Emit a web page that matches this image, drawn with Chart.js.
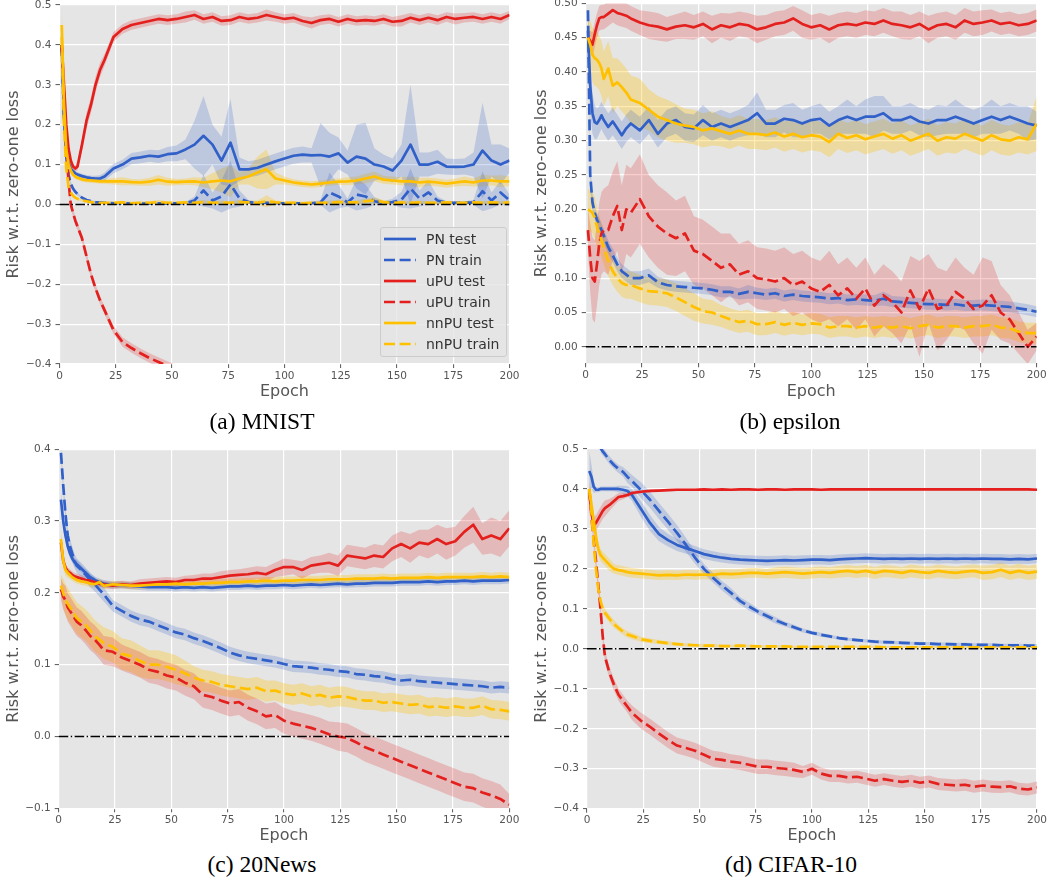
<!DOCTYPE html>
<html lang="en">
<head>
  <meta charset="UTF-8">
  <title>Risk w.r.t. zero-one loss</title>
  <script src="https://cdn.jsdelivr.net/npm/chart.js"></script>
  <style>
    body { margin: 0; background: #fff; }
    #page { position: relative; width: 1050px; height: 882px; overflow: hidden; }
    #page canvas { position: absolute; }
    .caption {
      position: absolute; width: 300px; height: 28px; line-height: 28px;
      text-align: center; font-family: "Liberation Serif", serif; font-size: 23.5px; color: #000;
    }
    #legend {
      position: absolute; left: 380px; top: 227px; width: 125px; height: 128px;
      background: rgba(229, 229, 229, 0.8); border: 1px solid #cccccc; border-radius: 3px;
      font-family: "DejaVu Sans", sans-serif; font-size: 14px; color: #333;
    }
    #legend .row { position: absolute; left: 0; height: 20px; width: 125px; }
    #legend svg { position: absolute; left: 3px; top: 0; }
    #legend span { position: absolute; left: 45px; top: 0; line-height: 20px; white-space: nowrap; }
  </style>
</head>
<body>
<div id="page">
  <canvas id="chartA" width="525" height="410" style="left:0;top:0"></canvas>
  <canvas id="chartB" width="525" height="410" style="left:525px;top:0"></canvas>
  <canvas id="chartC" width="525" height="410" style="left:0;top:440px"></canvas>
  <canvas id="chartD" width="525" height="410" style="left:525px;top:440px"></canvas>

  <div class="caption" style="left:112px;top:407px">(a) MNIST</div>
  <div class="caption" style="left:640px;top:407px">(b) epsilon</div>
  <div class="caption" style="left:112px;top:850px">(c) 20News</div>
  <div class="caption" style="left:641px;top:850px">(d) CIFAR-10</div>

  <div id="legend"></div>
</div>

<script>
const EPOCHS = [1,2,3,4,5,6,7,8,10,12,14,16,18,20,
  24,28,32,36,40,44,48,52,56,
  60,64,68,72,76,80,84,88,92,
  96,100,104,108,112,116,120,124,128,
  132,136,140,144,148,152,156,160,164,
  168,172,176,180,184,188,192,196,200];
const X_TICKS = [0,25,50,75,100,125,150,175,200];

// ---- (a) MNIST ----
const A_PN_TEST = [0.40,0.22,0.14,0.105,0.09,0.083,0.078,0.075,0.071,0.068,0.066,0.065,0.065,0.07,
  0.09,0.10,0.115,0.118,0.122,0.12,0.126,0.128,0.138,
  0.15,0.172,0.15,0.11,0.155,0.088,0.088,0.092,0.10,
  0.108,0.115,0.122,0.125,0.123,0.124,0.12,0.128,0.105,
  0.12,0.115,0.10,0.095,0.085,0.11,0.15,0.10,0.10,
  0.107,0.095,0.094,0.095,0.10,0.135,0.11,0.10,0.11];
const A_PN_TEST_SD = [0.03,0.02,0.015,0.01,0.008,0.007,0.006,0.006,0.006,0.006,0.006,0.007,0.008,0.01,
  0.012,0.012,0.014,0.015,0.015,0.016,0.018,0.02,0.025,
  0.06,0.10,0.05,0.06,0.11,0.03,0.02,0.02,0.02,
  0.02,0.02,0.02,0.02,0.018,0.08,0.06,0.04,0.03,
  0.08,0.09,0.04,0.03,0.03,0.04,0.15,0.03,0.03,
  0.03,0.02,0.02,0.02,0.03,0.12,0.04,0.05,0.03];
const A_PN_TRAIN = [0.40,0.22,0.12,0.075,0.052,0.04,0.032,0.026,0.017,0.011,0.008,0.006,0.005,0.004,
  0.003,0.003,0.002,0.002,0.002,0.003,0.002,0.003,0.003,
  0.01,0.035,0.01,0.02,0.05,0.015,0.006,0.004,0.004,
  0.003,0.003,0.003,0.003,0.003,0.005,0.03,0.02,0.005,
  0.025,0.02,0.008,0.004,0.006,0.012,0.04,0.015,0.03,
  0.01,0.004,0.004,0.004,0.005,0.033,0.01,0.03,0.01];
const A_PN_TRAIN_SD = [0.03,0.02,0.012,0.008,0.006,0.005,0.004,0.004,0.003,0.003,0.003,0.002,0.002,0.002,
  0.002,0.002,0.002,0.002,0.002,0.002,0.002,0.003,0.003,
  0.01,0.04,0.02,0.04,0.06,0.02,0.005,0.003,0.003,
  0.003,0.003,0.003,0.003,0.003,0.006,0.05,0.03,0.01,
  0.04,0.03,0.01,0.004,0.008,0.02,0.05,0.02,0.03,
  0.01,0.004,0.004,0.004,0.006,0.05,0.02,0.03,0.015];
const A_UPU_TEST = [0.40,0.30,0.20,0.14,0.11,0.095,0.09,0.095,0.15,0.21,0.25,0.30,0.337,0.362,
  0.42,0.44,0.45,0.455,0.46,0.465,0.462,0.465,0.47,
  0.475,0.465,0.47,0.46,0.462,0.47,0.465,0.468,0.475,
  0.47,0.465,0.468,0.46,0.455,0.462,0.465,0.458,0.465,
  0.46,0.462,0.46,0.465,0.458,0.46,0.468,0.462,0.468,
  0.462,0.47,0.465,0.468,0.47,0.465,0.47,0.465,0.475];
const A_UPU_TEST_SD = [0.02,0.02,0.02,0.015,0.01,0.008,0.008,0.01,0.015,0.02,0.02,0.02,0.018,0.015,
  0.012,0.012,0.012,0.012,0.012,0.012,0.012,0.012,0.014,
  0.012,0.012,0.012,0.012,0.012,0.012,0.012,0.012,0.014,
  0.012,0.012,0.012,0.012,0.014,0.012,0.012,0.012,0.012,
  0.012,0.012,0.012,0.012,0.012,0.014,0.012,0.012,0.012,
  0.012,0.012,0.014,0.012,0.012,0.012,0.012,0.012,0.01];
const A_UPU_TRAIN = [0.40,0.27,0.15,0.06,0.0,-0.02,-0.04,-0.055,-0.085,-0.13,-0.175,-0.21,-0.24,-0.265,
  -0.315,-0.345,-0.36,-0.373,-0.385,-0.395,-0.405,-0.415,null,
  null,null,null,null,null,null,null,null,null,
  null,null,null,null,null,null,null,null,null,
  null,null,null,null,null,null,null,null,null,
  null,null,null,null,null,null,null,null,null];
const A_UPU_TRAIN_SD = [0.02,0.015,0.012,0.01,0.01,0.01,0.01,0.01,0.01,0.01,0.01,0.01,0.01,0.01,
  0.01,0.012,0.012,0.012,0.012,0.012,0.012,0.012,null,
  null,null,null,null,null,null,null,null,null,
  null,null,null,null,null,null,null,null,null,
  null,null,null,null,null,null,null,null,null,
  null,null,null,null,null,null,null,null,null];
const A_NNPU_TEST = [0.45,0.25,0.14,0.10,0.085,0.075,0.07,0.067,0.063,0.061,0.06,0.059,0.058,0.058,
  0.058,0.058,0.056,0.055,0.057,0.062,0.057,0.056,0.057,
  0.058,0.055,0.058,0.06,0.058,0.065,0.07,0.08,0.088,
  0.065,0.06,0.055,0.052,0.05,0.052,0.055,0.057,0.058,
  0.06,0.065,0.07,0.062,0.06,0.058,0.058,0.055,0.057,
  0.055,0.052,0.055,0.058,0.055,0.06,0.06,0.058,0.058];
const A_NNPU_TEST_SD = [0.05,0.03,0.015,0.01,0.008,0.006,0.006,0.006,0.006,0.006,0.006,0.006,0.006,0.006,
  0.008,0.01,0.008,0.008,0.01,0.012,0.01,0.008,0.008,
  0.01,0.012,0.02,0.03,0.04,0.015,0.02,0.04,0.05,
  0.015,0.01,0.008,0.008,0.008,0.008,0.008,0.008,0.01,
  0.01,0.012,0.012,0.01,0.01,0.01,0.012,0.012,0.01,
  0.01,0.01,0.01,0.012,0.01,0.015,0.012,0.015,0.012];
const A_NNPU_TRAIN = [0.42,0.20,0.09,0.045,0.03,0.022,0.017,0.014,0.01,0.008,0.006,0.005,0.004,0.004,
  0.004,0.005,0.003,0.004,0.004,0.006,0.004,0.004,0.005,
  0.004,0.006,0.004,0.005,0.004,0.006,0.005,0.004,0.008,
  0.005,0.004,0.004,0.003,0.004,0.004,0.004,0.006,0.005,
  0.005,0.008,0.01,0.006,0.004,0.005,0.004,0.005,0.004,
  0.004,0.005,0.004,0.004,0.005,0.004,0.005,0.004,0.005];
const A_NNPU_TRAIN_SD = [0.04,0.02,0.01,0.006,0.004,0.003,0.003,0.003,0.003,0.003,0.003,0.003,0.003,0.003,
  0.004,0.004,0.004,0.004,0.004,0.005,0.004,0.004,0.004,
  0.004,0.005,0.004,0.005,0.004,0.005,0.005,0.006,0.015,
  0.005,0.004,0.004,0.004,0.004,0.004,0.005,0.006,0.005,
  0.005,0.006,0.008,0.005,0.004,0.004,0.004,0.004,0.004,
  0.004,0.004,0.004,0.004,0.004,0.004,0.004,0.004,0.004];

// ---- (b) epsilon ----
const B_PN_TEST = [0.46,0.38,0.34,0.327,0.325,0.33,0.337,0.33,0.32,0.328,0.318,0.308,0.318,0.325,
  0.315,0.33,0.31,0.325,0.33,0.32,0.318,0.33,0.32,
  0.325,0.32,0.325,0.33,0.34,0.325,0.325,0.332,0.33,
  0.325,0.33,0.332,0.322,0.33,0.335,0.33,0.335,0.335,
  0.34,0.33,0.33,0.335,0.328,0.325,0.33,0.33,0.335,
  0.33,0.325,0.33,0.335,0.33,0.335,0.33,0.325,0.322];
const B_PN_TEST_SD = [0.03,0.04,0.03,0.025,0.022,0.02,0.02,0.02,0.02,0.02,0.02,0.02,0.02,0.02,
  0.02,0.02,0.02,0.02,0.02,0.02,0.02,0.022,0.02,
  0.02,0.02,0.02,0.022,0.03,0.02,0.02,0.02,0.025,
  0.02,0.02,0.022,0.02,0.02,0.025,0.02,0.025,0.03,
  0.025,0.02,0.02,0.02,0.02,0.02,0.022,0.02,0.025,
  0.02,0.02,0.02,0.025,0.02,0.02,0.02,0.025,0.02];
const B_PN_TRAIN = [0.49,0.25,0.21,0.195,0.185,0.178,0.17,0.162,0.145,0.133,0.12,0.11,0.105,0.10,
  0.10,0.104,0.094,0.09,0.088,0.087,0.086,0.085,0.083,
  0.08,0.08,0.077,0.08,0.078,0.076,0.078,0.074,0.076,
  0.074,0.073,0.072,0.07,0.071,0.068,0.069,0.068,0.067,
  0.07,0.066,0.065,0.064,0.063,0.062,0.062,0.061,0.062,
  0.06,0.06,0.061,0.06,0.059,0.058,0.056,0.054,0.051];
const B_PN_TRAIN_SD = [0.01,0.02,0.012,0.01,0.01,0.01,0.01,0.01,0.01,0.01,0.01,0.01,0.01,0.01,
  0.01,0.01,0.008,0.008,0.008,0.008,0.008,0.008,0.008,
  0.008,0.008,0.008,0.01,0.008,0.008,0.008,0.008,0.008,
  0.008,0.008,0.008,0.008,0.008,0.008,0.008,0.008,0.008,
  0.01,0.008,0.008,0.008,0.008,0.008,0.008,0.008,0.008,
  0.008,0.008,0.008,0.008,0.008,0.008,0.008,0.008,0.008];
const B_UPU_TEST = [0.45,0.445,0.44,0.455,0.468,0.478,0.48,0.48,0.485,0.49,0.486,0.484,0.482,0.478,
  0.472,0.468,0.466,0.462,0.466,0.468,0.465,0.47,0.462,
  0.468,0.465,0.47,0.468,0.462,0.465,0.47,0.472,0.478,
  0.47,0.465,0.468,0.462,0.468,0.47,0.468,0.472,0.47,
  0.475,0.47,0.468,0.465,0.47,0.462,0.468,0.47,0.465,
  0.475,0.47,0.472,0.475,0.47,0.472,0.468,0.47,0.475];
const B_UPU_TEST_SD = [0.01,0.015,0.018,0.018,0.018,0.018,0.018,0.018,0.018,0.018,0.018,0.018,0.018,0.018,
  0.018,0.02,0.02,0.018,0.018,0.02,0.018,0.018,0.02,
  0.018,0.02,0.018,0.018,0.02,0.018,0.018,0.018,0.018,
  0.02,0.018,0.018,0.02,0.018,0.018,0.018,0.018,0.018,
  0.018,0.018,0.02,0.018,0.018,0.02,0.018,0.018,0.018,
  0.018,0.018,0.018,0.016,0.016,0.016,0.016,0.016,0.016];
const B_UPU_TRAIN = [0.17,0.13,0.10,0.095,0.12,0.15,0.165,0.17,0.17,0.19,0.205,0.17,0.20,0.195,
  0.215,0.19,0.175,0.165,0.158,0.165,0.14,0.135,0.125,
  0.115,0.12,0.105,0.11,0.10,0.098,0.095,0.10,0.09,
  0.095,0.085,0.08,0.09,0.075,0.085,0.07,0.085,0.06,
  0.075,0.065,0.05,0.082,0.055,0.085,0.055,0.06,0.08,
  0.07,0.055,0.06,0.075,0.05,0.04,0.02,0.0,0.015];
const B_UPU_TRAIN_SD = [0.03,0.05,0.06,0.06,0.06,0.06,0.06,0.06,0.065,0.065,0.065,0.065,0.065,0.065,
  0.065,0.06,0.06,0.06,0.055,0.055,0.05,0.05,0.05,
  0.05,0.045,0.045,0.045,0.045,0.045,0.045,0.045,0.045,
  0.045,0.045,0.045,0.05,0.045,0.045,0.045,0.045,0.045,
  0.045,0.045,0.045,0.05,0.07,0.05,0.06,0.05,0.05,
  0.045,0.05,0.07,0.05,0.04,0.035,0.03,0.025,0.02];
const B_NNPU_TEST = [0.45,0.44,0.425,0.42,0.418,0.413,0.405,0.39,0.405,0.38,0.385,0.378,0.37,0.36,
  0.355,0.345,0.335,0.33,0.325,0.322,0.32,0.315,0.318,
  0.314,0.31,0.315,0.31,0.31,0.308,0.312,0.306,0.31,
  0.305,0.308,0.306,0.298,0.31,0.304,0.308,0.302,0.306,
  0.31,0.303,0.308,0.30,0.305,0.31,0.30,0.305,0.303,
  0.31,0.305,0.30,0.308,0.302,0.30,0.305,0.302,0.325];
const B_NNPU_TEST_SD = [0.03,0.035,0.04,0.04,0.04,0.04,0.04,0.04,0.04,0.04,0.035,0.035,0.035,0.035,
  0.035,0.03,0.03,0.03,0.028,0.025,0.025,0.025,0.025,
  0.022,0.022,0.022,0.022,0.022,0.022,0.022,0.022,0.022,
  0.022,0.022,0.022,0.022,0.022,0.022,0.022,0.022,0.022,
  0.022,0.022,0.022,0.022,0.022,0.022,0.022,0.022,0.022,
  0.022,0.022,0.022,0.022,0.022,0.022,0.022,0.022,0.04];
const B_NNPU_TRAIN = [0.20,0.198,0.195,0.188,0.175,0.165,0.155,0.145,0.125,0.11,0.10,0.093,0.09,0.09,
  0.085,0.081,0.08,0.078,0.072,0.065,0.058,0.052,0.05,
  0.045,0.04,0.036,0.038,0.033,0.033,0.036,0.032,0.035,
  0.032,0.034,0.033,0.028,0.03,0.03,0.028,0.03,0.028,
  0.03,0.028,0.03,0.027,0.03,0.032,0.028,0.03,0.03,
  0.028,0.03,0.03,0.032,0.028,0.027,0.022,0.02,0.02];
const B_NNPU_TRAIN_SD = [0.03,0.03,0.03,0.03,0.03,0.025,0.025,0.025,0.022,0.02,0.02,0.02,0.02,0.02,
  0.02,0.02,0.02,0.02,0.02,0.02,0.02,0.018,0.018,
  0.016,0.016,0.016,0.016,0.016,0.016,0.016,0.016,0.016,
  0.015,0.015,0.015,0.015,0.015,0.015,0.015,0.015,0.015,
  0.015,0.015,0.015,0.015,0.015,0.015,0.015,0.015,0.015,
  0.015,0.015,0.015,0.015,0.015,0.015,0.015,0.015,0.015];

// ---- (c) 20News ----
const C_PN_TEST = [0.33,0.30,0.28,0.265,0.255,0.248,0.243,0.24,0.234,0.228,0.222,0.218,0.215,0.213,
  0.211,0.211,0.21,0.209,0.208,0.208,0.208,0.207,0.208,
  0.207,0.208,0.207,0.208,0.209,0.209,0.21,0.209,0.21,
  0.21,0.211,0.21,0.211,0.212,0.211,0.212,0.213,0.212,
  0.213,0.213,0.214,0.214,0.214,0.215,0.215,0.215,0.216,
  0.215,0.216,0.216,0.217,0.216,0.217,0.217,0.217,0.218];
const C_PN_TEST_SD = [0.012,0.01,0.008,0.007,0.006,0.006,0.006,0.006,0.005,0.005,0.005,0.005,0.005,0.005,
  0.005,0.005,0.005,0.005,0.005,0.005,0.005,0.005,0.005,
  0.005,0.005,0.005,0.005,0.005,0.005,0.005,0.005,0.005,
  0.005,0.005,0.005,0.005,0.005,0.005,0.005,0.005,0.005,
  0.005,0.005,0.005,0.005,0.005,0.005,0.005,0.005,0.005,
  0.005,0.005,0.005,0.005,0.005,0.005,0.005,0.005,0.005];
const C_PN_TRAIN = [0.395,0.35,0.31,0.28,0.265,0.255,0.245,0.238,0.232,0.225,0.218,0.212,0.205,0.198,
  0.182,0.175,0.168,0.163,0.16,0.155,0.15,0.145,0.142,
  0.137,0.133,0.128,0.123,0.117,0.113,0.11,0.108,0.106,
  0.104,0.101,0.098,0.097,0.096,0.094,0.093,0.091,0.09,
  0.087,0.086,0.084,0.083,0.08,0.078,0.079,0.077,0.076,
  0.075,0.074,0.073,0.072,0.071,0.07,0.068,0.069,0.068];
const C_PN_TRAIN_SD = [0.01,0.01,0.01,0.01,0.01,0.01,0.01,0.01,0.01,0.01,0.01,0.01,0.01,0.01,
  0.008,0.008,0.008,0.008,0.008,0.008,0.008,0.008,0.008,
  0.008,0.008,0.008,0.008,0.008,0.008,0.008,0.008,0.008,
  0.008,0.008,0.008,0.008,0.008,0.008,0.008,0.008,0.008,
  0.008,0.008,0.008,0.008,0.008,0.008,0.008,0.008,0.008,
  0.008,0.008,0.008,0.008,0.008,0.008,0.008,0.008,0.008];
const C_UPU_TEST = [0.27,0.245,0.235,0.23,0.228,0.225,0.223,0.222,0.22,0.218,0.217,0.215,0.213,0.212,
  0.21,0.212,0.211,0.213,0.214,0.215,0.216,0.215,0.218,
  0.218,0.22,0.22,0.222,0.224,0.225,0.226,0.228,0.226,
  0.232,0.236,0.236,0.232,0.238,0.24,0.242,0.238,0.252,
  0.25,0.248,0.252,0.25,0.262,0.268,0.262,0.27,0.268,
  0.275,0.268,0.272,0.285,0.295,0.275,0.28,0.275,0.29];
const C_UPU_TEST_SD = [0.01,0.008,0.006,0.005,0.005,0.005,0.005,0.005,0.005,0.005,0.005,0.005,0.005,0.005,
  0.005,0.005,0.005,0.006,0.006,0.006,0.006,0.006,0.006,
  0.007,0.007,0.007,0.008,0.008,0.008,0.009,0.009,0.01,
  0.01,0.012,0.01,0.012,0.012,0.012,0.014,0.014,0.015,
  0.015,0.015,0.016,0.016,0.018,0.018,0.02,0.018,0.02,
  0.02,0.022,0.02,0.022,0.025,0.022,0.025,0.025,0.025];
const C_UPU_TRAIN = [0.205,0.195,0.19,0.18,0.175,0.17,0.165,0.16,0.155,0.148,0.14,0.135,0.128,0.12,
  0.118,0.11,0.105,0.10,0.093,0.09,0.085,0.082,0.075,
  0.07,0.058,0.055,0.05,0.046,0.048,0.04,0.035,0.028,
  0.03,0.022,0.018,0.015,0.012,0.008,0.003,0.0,-0.002,
  -0.008,-0.015,-0.02,-0.025,-0.03,-0.035,-0.04,-0.045,-0.05,
  -0.055,-0.06,-0.065,-0.07,-0.072,-0.078,-0.082,-0.087,-0.095];
const C_UPU_TRAIN_SD = [0.015,0.018,0.02,0.02,0.02,0.02,0.02,0.02,0.02,0.02,0.02,0.02,0.02,0.02,
  0.02,0.018,0.018,0.018,0.018,0.018,0.018,0.018,0.018,
  0.018,0.018,0.018,0.018,0.018,0.018,0.018,0.018,0.018,
  0.018,0.018,0.018,0.018,0.018,0.018,0.018,0.02,0.02,
  0.02,0.02,0.02,0.02,0.02,0.02,0.02,0.02,0.02,
  0.02,0.02,0.02,0.02,0.02,0.02,0.02,0.02,0.015];
const C_NNPU_TEST = [0.275,0.245,0.232,0.228,0.225,0.222,0.22,0.218,0.216,0.215,0.213,0.212,0.215,0.21,
  0.212,0.211,0.21,0.21,0.211,0.212,0.212,0.213,0.212,
  0.213,0.213,0.214,0.214,0.215,0.215,0.216,0.216,0.217,
  0.216,0.217,0.217,0.218,0.218,0.218,0.219,0.219,0.219,
  0.22,0.22,0.22,0.221,0.22,0.221,0.221,0.221,0.222,
  0.221,0.222,0.222,0.222,0.222,0.223,0.222,0.223,0.222];
const C_NNPU_TEST_SD = [0.012,0.01,0.008,0.007,0.006,0.005,0.005,0.005,0.005,0.005,0.005,0.005,0.005,0.005,
  0.005,0.005,0.005,0.005,0.005,0.005,0.005,0.005,0.005,
  0.005,0.005,0.005,0.005,0.005,0.005,0.005,0.005,0.005,
  0.006,0.006,0.006,0.006,0.006,0.006,0.006,0.006,0.006,
  0.006,0.006,0.006,0.006,0.006,0.006,0.006,0.006,0.006,
  0.006,0.006,0.006,0.006,0.006,0.006,0.006,0.006,0.006];
const C_NNPU_TRAIN = [0.21,0.20,0.19,0.185,0.18,0.175,0.17,0.165,0.16,0.155,0.148,0.14,0.135,0.13,
  0.125,0.115,0.112,0.105,0.10,0.10,0.097,0.093,0.088,
  0.082,0.078,0.076,0.072,0.07,0.068,0.066,0.068,0.063,
  0.064,0.06,0.058,0.06,0.056,0.058,0.054,0.056,0.055,
  0.052,0.05,0.05,0.047,0.048,0.046,0.044,0.045,0.041,
  0.042,0.04,0.042,0.04,0.04,0.043,0.038,0.037,0.035];
const C_NNPU_TRAIN_SD = [0.015,0.02,0.022,0.022,0.022,0.022,0.022,0.022,0.022,0.022,0.022,0.022,0.022,0.022,
  0.022,0.022,0.022,0.022,0.02,0.02,0.02,0.02,0.018,
  0.016,0.015,0.015,0.015,0.015,0.015,0.015,0.015,0.015,
  0.014,0.014,0.014,0.014,0.014,0.014,0.014,0.014,0.014,
  0.013,0.013,0.013,0.013,0.013,0.013,0.013,0.013,0.013,
  0.013,0.013,0.013,0.013,0.013,0.013,0.013,0.013,0.013];

// ---- (d) CIFAR-10 ----
const D_PN_TEST = [0.445,0.43,0.405,0.398,0.398,0.40,0.40,0.40,0.40,0.40,0.40,0.398,0.395,0.385,
  0.35,0.315,0.287,0.272,0.26,0.252,0.245,0.237,0.232,
  0.228,0.225,0.223,0.222,0.221,0.22,0.221,0.222,0.221,
  0.222,0.223,0.223,0.222,0.224,0.225,0.226,0.227,0.226,
  0.225,0.226,0.225,0.226,0.225,0.226,0.225,0.226,0.225,
  0.226,0.225,0.226,0.225,0.225,0.224,0.225,0.224,0.226];
const D_PN_TEST_SD = [0.05,0.03,0.015,0.006,0.006,0.006,0.006,0.006,0.006,0.006,0.008,0.01,0.012,0.015,
  0.02,0.02,0.018,0.016,0.015,0.014,0.012,0.012,0.012,
  0.012,0.012,0.012,0.012,0.012,0.012,0.012,0.012,0.012,
  0.012,0.012,0.012,0.012,0.012,0.012,0.012,0.012,0.012,
  0.012,0.012,0.012,0.012,0.012,0.012,0.012,0.012,0.012,
  0.012,0.012,0.012,0.012,0.012,0.012,0.012,0.012,0.012];
const D_PN_TRAIN = [null,null,null,null,null,0.502,0.494,0.487,0.472,0.46,0.45,0.443,0.43,0.42,
  0.397,0.373,0.345,0.318,0.29,0.26,0.228,0.20,0.178,
  0.158,0.14,0.12,0.106,0.093,0.082,0.071,0.062,0.054,
  0.046,0.04,0.035,0.031,0.027,0.024,0.022,0.02,0.018,
  0.017,0.016,0.015,0.014,0.013,0.013,0.012,0.012,0.011,
  0.011,0.01,0.01,0.01,0.009,0.009,0.009,0.008,0.008];
const D_PN_TRAIN_SD = [null,null,null,null,null,0.01,0.01,0.01,0.01,0.01,0.01,0.012,0.015,0.015,
  0.02,0.02,0.02,0.02,0.02,0.018,0.015,0.012,0.012,
  0.012,0.012,0.01,0.01,0.008,0.008,0.008,0.006,0.006,
  0.005,0.005,0.005,0.004,0.004,0.004,0.004,0.004,0.004,
  0.004,0.004,0.004,0.004,0.004,0.004,0.004,0.004,0.004,
  0.004,0.004,0.004,0.004,0.004,0.004,0.004,0.004,0.004];
const D_UPU_TEST = [0.39,0.34,0.31,0.315,0.325,0.335,0.345,0.352,0.36,0.37,0.38,0.382,0.385,0.39,
  0.393,0.395,0.396,0.397,0.398,0.398,0.398,0.399,0.398,
  0.399,0.398,0.399,0.399,0.398,0.399,0.399,0.398,0.399,
  0.399,0.399,0.398,0.399,0.399,0.399,0.399,0.399,0.399,
  0.399,0.399,0.399,0.399,0.399,0.399,0.399,0.399,0.399,
  0.399,0.399,0.399,0.399,0.399,0.399,0.399,0.399,0.398];
const D_UPU_TEST_SD = [0.01,0.02,0.02,0.02,0.02,0.02,0.02,0.02,0.015,0.012,0.01,0.008,0.006,0.005,
  0.004,0.003,0.003,0.003,0.003,0.003,0.003,0.003,0.003,
  0.003,0.003,0.003,0.003,0.003,0.003,0.003,0.003,0.003,
  0.003,0.003,0.003,0.003,0.003,0.003,0.003,0.003,0.003,
  0.003,0.003,0.003,0.003,0.003,0.003,0.003,0.003,0.003,
  0.003,0.003,0.003,0.003,0.003,0.003,0.003,0.003,0.003];
const D_UPU_TRAIN = [0.40,0.33,0.27,0.22,0.16,0.10,0.03,-0.02,-0.06,-0.09,-0.115,-0.13,-0.145,-0.16,
  -0.18,-0.195,-0.212,-0.228,-0.242,-0.248,-0.255,-0.265,-0.275,
  -0.278,-0.282,-0.285,-0.29,-0.295,-0.295,-0.298,-0.30,-0.303,
  -0.308,-0.30,-0.312,-0.318,-0.318,-0.322,-0.32,-0.325,-0.33,
  -0.326,-0.33,-0.333,-0.33,-0.335,-0.332,-0.338,-0.34,-0.342,
  -0.34,-0.345,-0.342,-0.345,-0.346,-0.344,-0.35,-0.352,-0.347];
const D_UPU_TRAIN_SD = [0.01,0.01,0.012,0.015,0.015,0.015,0.015,0.015,0.015,0.015,0.015,0.015,0.015,0.018,
  0.02,0.02,0.02,0.02,0.02,0.02,0.02,0.02,0.02,
  0.02,0.018,0.018,0.018,0.018,0.018,0.018,0.018,0.018,
  0.015,0.015,0.015,0.015,0.015,0.015,0.015,0.015,0.015,
  0.015,0.015,0.015,0.015,0.015,0.015,0.015,0.015,0.015,
  0.015,0.015,0.015,0.015,0.015,0.015,0.015,0.015,0.015];
const D_NNPU_TEST = [0.40,0.36,0.32,0.28,0.25,0.235,0.228,0.222,0.21,0.20,0.197,0.195,0.192,0.19,
  0.188,0.186,0.184,0.185,0.184,0.186,0.185,0.186,0.185,
  0.188,0.187,0.188,0.19,0.19,0.188,0.19,0.192,0.19,
  0.188,0.19,0.192,0.19,0.193,0.195,0.192,0.195,0.19,
  0.195,0.193,0.19,0.195,0.192,0.19,0.195,0.192,0.19,
  0.193,0.195,0.19,0.192,0.198,0.19,0.195,0.19,0.193];
const D_NNPU_TEST_SD = [0.02,0.02,0.02,0.02,0.018,0.015,0.015,0.015,0.015,0.012,0.012,0.012,0.012,0.012,
  0.012,0.012,0.012,0.012,0.012,0.012,0.012,0.012,0.012,
  0.012,0.012,0.012,0.012,0.012,0.012,0.014,0.014,0.014,
  0.014,0.014,0.014,0.014,0.015,0.015,0.015,0.015,0.015,
  0.015,0.015,0.015,0.016,0.016,0.016,0.016,0.016,0.016,
  0.016,0.016,0.018,0.018,0.018,0.018,0.018,0.018,0.018];
const D_NNPU_TRAIN = [0.40,0.34,0.26,0.20,0.15,0.12,0.10,0.09,0.075,0.062,0.052,0.043,0.036,0.032,
  0.024,0.02,0.017,0.014,0.012,0.01,0.009,0.008,0.008,
  0.007,0.007,0.008,0.007,0.006,0.006,0.006,0.006,0.005,
  0.005,0.005,0.005,0.005,0.005,0.005,0.005,0.005,0.005,
  0.004,0.004,0.004,0.004,0.004,0.004,0.004,0.004,0.004,
  0.004,0.004,0.004,0.004,0.004,0.004,0.004,0.004,0.004];
const D_NNPU_TRAIN_SD = [0.01,0.012,0.012,0.012,0.012,0.012,0.012,0.01,0.01,0.01,0.008,0.008,0.008,0.008,
  0.006,0.006,0.005,0.005,0.004,0.004,0.004,0.004,0.004,
  0.003,0.003,0.003,0.003,0.003,0.003,0.003,0.003,0.003,
  0.003,0.003,0.003,0.003,0.003,0.003,0.003,0.003,0.003,
  0.003,0.003,0.003,0.003,0.003,0.003,0.003,0.003,0.003,
  0.003,0.003,0.003,0.003,0.003,0.003,0.003,0.003,0.003];

// ---- styling ----
const LINE_COLOR = { PN: '#3060C8', uPU: '#E3201E', nnPU: '#FFC000' };
const BAND_COLOR = { PN: 'rgba(48,96,200,0.22)', uPU: 'rgba(227,32,30,0.22)', nnPU: 'rgba(255,192,0,0.30)' };
const LINE_WIDTH = 2.7;
const TRAIN_DASH = [11, 4.6];
const ZERO_DASH = [9.6, 2.4, 1.5, 2.4];
const FONT = '"DejaVu Sans", sans-serif';
const AXIS_GREY = '#555555';

Chart.defaults.font.family = FONT;

function series(method, split, mean, spread) {
  if (mean.length !== EPOCHS.length || spread.length !== EPOCHS.length) {
    console.error('length mismatch', method, split, mean.length, spread.length);
  }
  return { method, split, mean, spread };
}

function pts(vals) {
  return EPOCHS.map((e, i) => ({ x: e, y: vals[i] }));
}

function buildDatasets(list) {
  const bands = [];
  const lines = [];
  list.forEach((s, k) => {
    const hi = s.mean.map((m, i) => m === null ? null : m + s.spread[i]);
    const lo = s.mean.map((m, i) => m === null ? null : m - s.spread[i]);
    bands.push({ data: pts(hi), fill: '+1', backgroundColor: BAND_COLOR[s.method],
      borderWidth: 0, borderColor: 'transparent', pointRadius: 0, order: 20 });
    bands.push({ data: pts(lo), fill: false, borderWidth: 0, borderColor: 'transparent',
      pointRadius: 0, order: 20 });
    lines.push({ label: s.method + ' ' + s.split, data: pts(s.mean), fill: false,
      borderColor: LINE_COLOR[s.method], borderWidth: LINE_WIDTH,
      borderDash: s.split === 'train' ? TRAIN_DASH : [], borderJoinStyle: 'round',
      pointRadius: 0, order: 10 - k });
  });
  const zero = { data: [{ x: X_TICKS[0], y: 0 }, { x: X_TICKS[X_TICKS.length - 1], y: 0 }],
    fill: false, borderColor: '#000', borderWidth: 1.5, borderDash: ZERO_DASH, pointRadius: 0, order: 0 };
  return bands.concat(lines, [zero]);
}

// grey ggplot panel behind the grid
const panelBackground = {
  id: 'panelBackground',
  beforeDraw(chart) {
    const { ctx, chartArea: a } = chart;
    ctx.save();
    ctx.fillStyle = '#E5E5E5';
    ctx.fillRect(a.left, a.top, a.right - a.left, a.bottom - a.top);
    ctx.restore();
  }
};

function makePanel(id, p) {
  const minus = v => v.replace('-', '\u2212');
  new Chart(document.getElementById(id), {
    type: 'line',
    data: { datasets: buildDatasets(p.series) },
    options: {
      responsive: false,
      animation: false,
      clip: 0,
      spanGaps: false,
      layout: { padding: { left: 0, right: p.padRight, top: p.padTop, bottom: 0 } },
      plugins: { legend: { display: false }, tooltip: { enabled: false } },
      elements: { line: { tension: 0 } },
      scales: {
        x: {
          type: 'linear', min: X_TICKS[0], max: X_TICKS[X_TICKS.length - 1],
          afterBuildTicks: s => { s.ticks = X_TICKS.map(v => ({ value: v })); },
          afterFit: s => { s.height = p.xAxisHeight; s.paddingLeft = 0; s.paddingRight = 0; },
          grid: { color: '#FFFFFF', lineWidth: 1.2, tickColor: AXIS_GREY, tickLength: 4, tickWidth: 1 },
          border: { display: false },
          ticks: { color: AXIS_GREY, font: { size: 10.5 }, padding: 1.5, maxRotation: 0,
            callback: v => String(v) },
          title: { display: true, text: 'Epoch', color: AXIS_GREY, font: { size: 16 },
            padding: { top: 0, bottom: p.xTitlePad } }
        },
        y: {
          type: 'linear', min: p.yMin, max: p.yMax,
          afterBuildTicks: s => { s.ticks = p.yTicks.map(v => ({ value: v })); },
          afterFit: s => { s.width = p.yAxisWidth; s.paddingTop = 0; s.paddingBottom = 0; },
          grid: { color: '#FFFFFF', lineWidth: 1.2, tickColor: AXIS_GREY, tickLength: 4, tickWidth: 1 },
          border: { display: false },
          ticks: { color: AXIS_GREY, font: { size: 10.5 }, padding: 4,
            callback: v => minus((Math.abs(v) < 1e-9 ? 0 : v).toFixed(p.decimals)) },
          title: { display: true, text: 'Risk w.r.t. zero-one loss', color: AXIS_GREY, font: { size: 16 },
            padding: { top: p.yTitlePad, bottom: 0 } }
        }
      }
    },
    plugins: [panelBackground]
  });
}

makePanel('chartA', {
  series: [
    series('PN', 'test', A_PN_TEST, A_PN_TEST_SD),
    series('PN', 'train', A_PN_TRAIN, A_PN_TRAIN_SD),
    series('uPU', 'test', A_UPU_TEST, A_UPU_TEST_SD),
    series('uPU', 'train', A_UPU_TRAIN, A_UPU_TRAIN_SD),
    series('nnPU', 'test', A_NNPU_TEST, A_NNPU_TEST_SD),
    series('nnPU', 'train', A_NNPU_TRAIN, A_NNPU_TRAIN_SD)
  ],
  yMin: -0.4, yMax: 0.5, yTicks: [-0.4,-0.3,-0.2,-0.1,0,0.1,0.2,0.3,0.4,0.5], decimals: 1,
  yAxisWidth: 59.5, padRight: 15.5, padTop: 5, xAxisHeight: 46, xTitlePad: 8.7, yTitlePad: 4.4
});

makePanel('chartB', {
  series: [
    series('PN', 'test', B_PN_TEST, B_PN_TEST_SD),
    series('PN', 'train', B_PN_TRAIN, B_PN_TRAIN_SD),
    series('uPU', 'test', B_UPU_TEST, B_UPU_TEST_SD),
    series('uPU', 'train', B_UPU_TRAIN, B_UPU_TRAIN_SD),
    series('nnPU', 'test', B_NNPU_TEST, B_NNPU_TEST_SD),
    series('nnPU', 'train', B_NNPU_TRAIN, B_NNPU_TRAIN_SD)
  ],
  yMin: -0.024, yMax: 0.5, yTicks: [0,0.05,0.1,0.15,0.2,0.25,0.3,0.35,0.4,0.45,0.5], decimals: 2,
  yAxisWidth: 60.7, padRight: 13.3, padTop: 3.3, xAxisHeight: 46.7, xTitlePad: 8.7, yTitlePad: 7.7
});

makePanel('chartC', {
  series: [
    series('PN', 'test', C_PN_TEST, C_PN_TEST_SD),
    series('PN', 'train', C_PN_TRAIN, C_PN_TRAIN_SD),
    series('uPU', 'test', C_UPU_TEST, C_UPU_TEST_SD),
    series('uPU', 'train', C_UPU_TRAIN, C_UPU_TRAIN_SD),
    series('nnPU', 'test', C_NNPU_TEST, C_NNPU_TEST_SD),
    series('nnPU', 'train', C_NNPU_TRAIN, C_NNPU_TRAIN_SD)
  ],
  yMin: -0.1, yMax: 0.4, yTicks: [-0.1,0,0.1,0.2,0.3,0.4], decimals: 1,
  yAxisWidth: 58.7, padRight: 15.7, padTop: 9.3, xAxisHeight: 41.7, xTitlePad: 4.4, yTitlePad: 4.4
});

makePanel('chartD', {
  series: [
    series('PN', 'test', D_PN_TEST, D_PN_TEST_SD),
    series('PN', 'train', D_PN_TRAIN, D_PN_TRAIN_SD),
    series('uPU', 'test', D_UPU_TEST, D_UPU_TEST_SD),
    series('uPU', 'train', D_UPU_TRAIN, D_UPU_TRAIN_SD),
    series('nnPU', 'test', D_NNPU_TEST, D_NNPU_TEST_SD),
    series('nnPU', 'train', D_NNPU_TRAIN, D_NNPU_TRAIN_SD)
  ],
  yMin: -0.4, yMax: 0.5, yTicks: [-0.4,-0.3,-0.2,-0.1,0,0.1,0.2,0.3,0.4,0.5], decimals: 1,
  yAxisWidth: 62, padRight: 13, padTop: 9, xAxisHeight: 41.3, xTitlePad: 4.4, yTitlePad: 7.7
});

// legend of panel (a)
const LEGEND_ENTRIES = [['PN', 'test'], ['PN', 'train'], ['uPU', 'test'], ['uPU', 'train'], ['nnPU', 'test'], ['nnPU', 'train']];
const legend = document.getElementById('legend');
LEGEND_ENTRIES.forEach(([method, split], i) => {
  const row = document.createElement('div');
  row.className = 'row';
  row.style.top = (1 + i * 20.9) + 'px';
  const dash = split === 'train' ? ' stroke-dasharray="' + TRAIN_DASH.join(' ') + '"' : '';
  row.innerHTML = '<svg width="34" height="20"><line x1="0" y1="10" x2="32" y2="10" stroke="' +
    LINE_COLOR[method] + '" stroke-width="' + LINE_WIDTH + '"' + dash + '/></svg>' +
    '<span>' + method + ' ' + split + '</span>';
  legend.appendChild(row);
});
</script>
</body>
</html>
